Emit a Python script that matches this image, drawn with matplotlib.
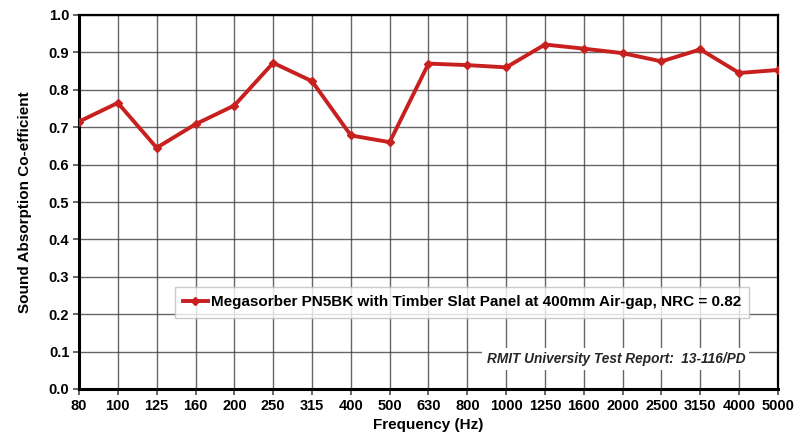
import numpy as np
import matplotlib.pyplot as plt

plt.rcParams['font.family'] = ['Liberation Sans', 'DejaVu Sans']
plt.rcParams['font.weight'] = 'bold'
plt.rcParams['axes.labelweight'] = 'bold'

freqs = ['80', '100', '125', '160', '200', '250', '315', '400', '500', '630',
         '800', '1000', '1250', '1600', '2000', '2500', '3150', '4000', '5000']
alpha_vals = [0.715, 0.765, 0.645, 0.708, 0.758, 0.872, 0.823, 0.678, 0.660, 0.870,
              0.866, 0.860, 0.921, 0.910, 0.898, 0.876, 0.908, 0.845, 0.853]
series_label = 'Megasorber PN5BK with Timber Slat Panel at 400mm Air-gap, NRC = 0.82'
report_note = 'RMIT University Test Report:  13-116/PD'

fig = plt.figure(figsize=(7.97, 4.41), dpi=100)
ax = fig.add_axes([79/797, 1 - 389/441, (778-79)/797, (389-15)/441])

x = np.arange(len(freqs))
ax.plot(x, alpha_vals, color='#c8201f', lw=2.8, marker='D', ms=4.5,
        label=series_label, zorder=3)

ax.set_xlim(0, len(freqs) - 1)
ax.set_ylim(0, 1.0)
ax.set_xticks(x)
ax.set_xticklabels(freqs)
ax.set_yticks(np.arange(0, 1.01, 0.1))
ax.set_yticklabels(['%.1f' % v for v in np.arange(0, 1.01, 0.1)])
ax.tick_params(labelsize=10.5, length=4, width=1.2, color='0.3', pad=3)
ax.grid(True, color='0.25', lw=1.0, alpha=0.8)
ax.set_axisbelow(True)

for side in ['left', 'bottom']:
    ax.spines[side].set_linewidth(2.2)
for side in ['top', 'right']:
    ax.spines[side].set_linewidth(1.6)

ax.set_xlabel('Frequency (Hz)', fontsize=11, labelpad=4)
ax.set_ylabel('Sound Absorption Co-efficient', fontsize=11, labelpad=12)

leg = ax.legend(loc='lower right', bbox_to_anchor=(0.97, 0.17),
                prop={'weight': 'bold', 'size': 11},
                frameon=True, fancybox=False, handlelength=1.6, handletextpad=0.2,
                borderpad=0.55, edgecolor='0.75', shadow=False)
leg.get_frame().set_linewidth(1.0)

ax.text(0.953, 0.08, report_note, transform=ax.transAxes, ha='right', va='center',
        fontsize=9.8, style='italic', fontweight='bold', color='0.15',
        bbox=dict(facecolor='white', edgecolor='none', pad=3))

fig.savefig('out.png', dpi=100)
